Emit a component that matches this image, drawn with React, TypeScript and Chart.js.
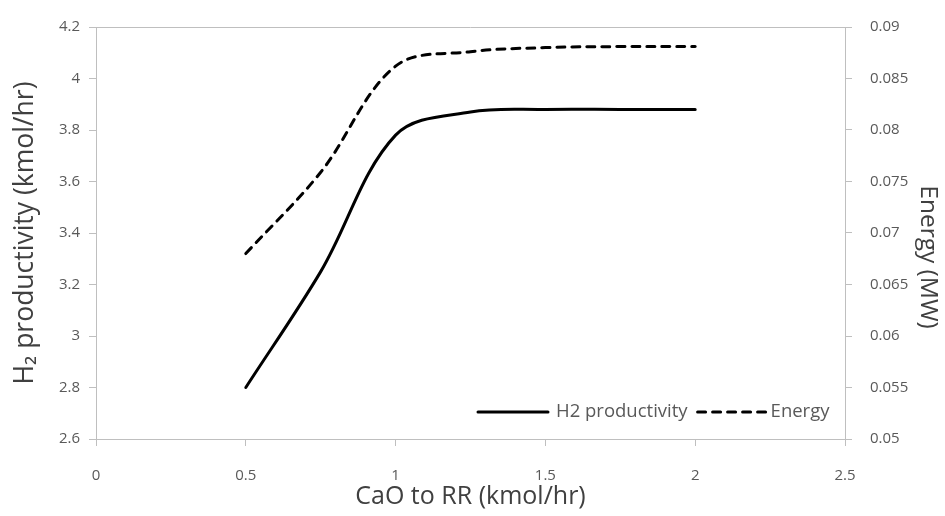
import React, { useEffect, useRef } from "react";
import { Chart, registerables } from "chart.js";

Chart.register(...registerables);

// ---- data ----
const caoToRR = [0.5, 0.75, 1.0, 1.25, 1.5, 1.75, 2.0];
const h2Productivity = [2.8, 3.25, 3.78, 3.87, 3.88, 3.88, 3.88];
const energyMW = [0.068, 0.0759, 0.0862, 0.0876, 0.088, 0.0881, 0.0881];

const seriesLabels = ["H2 productivity", "Energy"];
const xTitle = "CaO to RR (kmol/hr)";
const yTitle = "H\u2082 productivity (kmol/hr)";
const y2Title = "Energy (MW)";

const xRange = [0, 2.5, 0.5];
const yRange = [2.6, 4.2, 0.2];
const y2Range = [0.05, 0.09, 0.005];

// ---- styles ----
const FONT = "'Open Sans', 'Noto Sans', 'DejaVu Sans', sans-serif";
const AXIS_COLOR = "#bfbfbf";
const TICK_COLOR = "#595959";
const TITLE_COLOR = "#404040";
const TICK_SIZE = 15;
const LEGEND_SIZE = 18.5;
const XTITLE_SIZE = 25;
const YTITLE_SIZE = 26.5;
const Y2TITLE_SIZE = 24.5;
const DASH = [8, 7];

const fmt = (v: any) => String(parseFloat(Number(v).toFixed(4)));

const decorPlugin = {
  id: "decor",
  afterDraw(chart: any) {
    const { ctx, chartArea: a } = chart;
    const cx = (a.left + a.right) / 2;
    const cy = (a.top + a.bottom) / 2;
    ctx.save();
    // top border of plot area
    ctx.strokeStyle = AXIS_COLOR;
    ctx.lineWidth = 1;
    ctx.beginPath();
    const ty = Math.round(a.top) + 0.5;
    ctx.moveTo(a.left, ty);
    ctx.lineTo(a.right, ty);
    ctx.stroke();

    // axis titles
    ctx.fillStyle = TITLE_COLOR;
    ctx.textAlign = "center";
    ctx.textBaseline = "middle";
    ctx.font = `${XTITLE_SIZE}px ${FONT}`;
    ctx.fillText(xTitle, cx, a.bottom + 58);

    ctx.save();
    ctx.translate(a.left - 71, cy);
    ctx.rotate(-Math.PI / 2);
    ctx.font = `${YTITLE_SIZE}px ${FONT}`;
    ctx.fillText(yTitle, 0, 0);
    ctx.restore();

    ctx.save();
    ctx.translate(a.right + 83, cy + 24);
    ctx.rotate(Math.PI / 2);
    ctx.font = `${Y2TITLE_SIZE}px ${FONT}`;
    ctx.fillText(y2Title, 0, 0);
    ctx.restore();

    // legend inside plot area
    const ly = a.bottom - 27;
    let lx = a.left + 382;
    ctx.font = `${LEGEND_SIZE}px ${FONT}`;
    ctx.textAlign = "left";
    ctx.fillStyle = TICK_COLOR;
    ctx.strokeStyle = "#000";
    ctx.lineWidth = 3;
    ctx.lineCap = "round";
    chart.data.datasets.forEach((ds: any, i: number) => {
      const len = i === 0 ? 70 : 68;
      ctx.setLineDash(ds.borderDash || []);
      ctx.beginPath();
      ctx.moveTo(lx, ly);
      ctx.lineTo(lx + len, ly);
      ctx.stroke();
      lx += len + (i === 0 ? 8 : 5);
      ctx.fillText(ds.label, lx, ly);
      lx += ctx.measureText(ds.label).width + 10;
    });
    ctx.setLineDash([]);
    ctx.restore();
  },
};

export default function App() {
  const ref = useRef<HTMLCanvasElement | null>(null);

  useEffect(() => {
    if (!ref.current) return;
    const tickFont = { family: FONT, size: TICK_SIZE };
    const grid = {
      drawOnChartArea: false,
      drawTicks: true,
      tickLength: 7,
      color: AXIS_COLOR,
      lineWidth: 1,
    };
    const border = { color: AXIS_COLOR, width: 1 };
    const chart = new Chart(ref.current, {
      type: "line",
      data: {
        datasets: [
          {
            label: seriesLabels[0],
            data: caoToRR.map((x, i) => ({ x, y: h2Productivity[i] })),
            yAxisID: "y",
            borderColor: "#000",
            borderWidth: 3,
            pointRadius: 0,
            tension: 0.35,
            borderCapStyle: "round",
            fill: false,
          },
          {
            label: seriesLabels[1],
            data: caoToRR.map((x, i) => ({ x, y: energyMW[i] })),
            yAxisID: "y2",
            borderColor: "#000",
            borderWidth: 3,
            borderDash: DASH,
            pointRadius: 0,
            tension: 0.35,
            borderCapStyle: "round",
            fill: false,
          },
        ],
      },
      options: {
        animation: false,
        responsive: false,
        devicePixelRatio: 1,
        layout: { padding: { top: 24, left: 0, right: 0, bottom: 0 } },
        plugins: { legend: { display: false }, tooltip: { enabled: false } },
        scales: {
          x: {
            type: "linear",
            min: xRange[0],
            max: xRange[1],
            ticks: { stepSize: xRange[2], color: TICK_COLOR, font: tickFont, padding: 21, callback: fmt },
            grid,
            border,
            afterFit(s: any) {
              s.height = 77;
            },
          },
          y: {
            type: "linear",
            position: "left",
            min: yRange[0],
            max: yRange[1],
            ticks: { stepSize: yRange[2], color: TICK_COLOR, font: tickFont, padding: 9, callback: fmt },
            grid,
            border,
            afterFit(s: any) {
              s.width = 96;
            },
          },
          y2: {
            type: "linear",
            position: "right",
            min: y2Range[0],
            max: y2Range[1],
            ticks: { stepSize: y2Range[2], color: TICK_COLOR, font: tickFont, padding: 18, callback: fmt },
            grid,
            border,
            afterFit(s: any) {
              s.width = 100;
            },
          },
        },
      },
      plugins: [decorPlugin],
    } as any);
    return () => chart.destroy();
  }, []);

  return (
    <div style={{ position: "fixed", left: 0, top: 0, width: 945, height: 516, background: "#fff" }}>
      <canvas ref={ref} width={945} height={516} style={{ width: 945, height: 516, display: "block" }} />
    </div>
  );
}
